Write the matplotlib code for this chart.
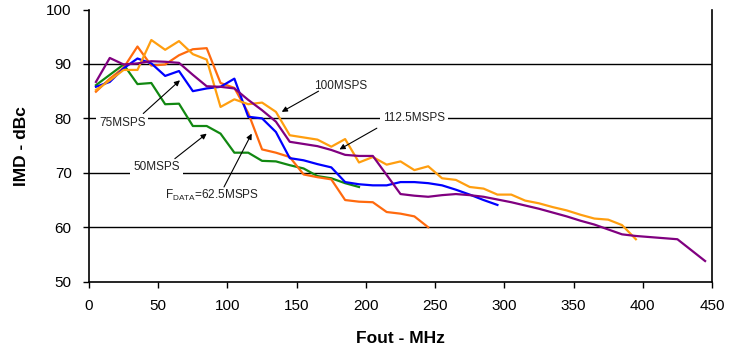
import matplotlib
matplotlib.use('Agg')
import matplotlib.pyplot as plt

plt.rcParams['font.family'] = ['Liberation Sans', 'DejaVu Sans']

# 输出频率 (MHz) 与各采样率下的 IMD (dBc)
f_50 = list(range(5, 200, 10))
imd_50 = [86.1, 88.0, 89.9, 86.3, 86.5, 82.6, 82.7, 78.6, 78.6, 77.2,
          73.7, 73.7, 72.2, 72.1, 71.4, 70.8, 69.4, 69.0, 68.1, 67.4]

f_62 = list(range(5, 250, 10))
imd_62 = [84.9, 87.3, 89.3, 93.2, 89.7, 89.9, 91.6, 92.7, 92.9, 86.5,
          85.6, 81.0, 74.3, 73.7, 72.9, 69.7, 69.2, 68.8, 65.0, 64.7,
          64.6, 62.8, 62.5, 62.0, 60.0]

f_75 = list(range(5, 300, 10))
imd_75 = [85.8, 86.7, 89.2, 91.0, 90.1, 87.8, 88.7, 85.0, 85.5, 85.8,
          87.3, 80.3, 80.0, 77.5, 72.7, 72.3, 71.6, 71.0, 68.3, 67.9,
          67.7, 67.7, 68.3, 68.3, 68.1, 67.7, 66.9, 66.0, 65.0, 64.1]

f_100 = list(range(5, 400, 10))
imd_100 = [85.2, 87.0, 88.9, 88.9, 94.4, 92.6, 94.2, 91.8, 90.8, 82.1,
           83.5, 82.6, 82.9, 81.2, 76.9, 76.5, 76.1, 74.8, 76.2, 71.9,
           72.9, 71.5, 72.1, 70.5, 71.2, 69.0, 68.7, 67.4, 67.1, 66.0,
           66.0, 64.9, 64.4, 63.7, 63.1, 62.3, 61.6, 61.4, 60.4, 57.8]

f_112 = list(range(5, 410, 10)) + [425, 445]
imd_112 = [86.7, 91.1, 89.9, 90.1, 90.5, 90.4, 90.2, 88.0, 85.9, 85.8,
           85.5, 83.4, 81.5, 79.4, 75.7, 75.3, 74.9, 74.2, 73.3, 73.1,
           73.1, 69.6, 66.1, 65.8, 65.6, 65.9, 66.1, 65.9, 65.6, 65.1,
           64.6, 64.0, 63.4, 62.7, 62.0, 61.2, 60.5, 59.6, 58.7, 58.4,
           58.2, 57.8, 53.8]

fig = plt.figure(figsize=(7.43, 3.52), dpi=100)
ax = fig.add_axes([0.1198, 0.1997, 0.8385, 0.7733])

# 网格线
for yv in [60, 70, 80, 90]:
    ax.axhline(yv, color='black', lw=1.0, zorder=1)

lw = 1.6
ax.plot(f_50, imd_50, color='#118811', lw=lw, zorder=3)
ax.plot(f_62, imd_62, color='#FF6A0E', lw=lw, zorder=3)
ax.plot(f_75, imd_75, color='#0000FF', lw=lw, zorder=3)
ax.plot(f_100, imd_100, color='#FF9E0F', lw=lw, zorder=3)
ax.plot(f_112, imd_112, color='#800080', lw=lw, zorder=3)

ax.set_xlim(0, 450)
ax.set_ylim(50, 100)
ax.set_xticks(range(0, 451, 50))
ax.set_yticks(range(50, 101, 10))
ax.tick_params(direction='out', length=4.5, width=1.0, labelsize=11, pad=8,
               colors='black')
ax.tick_params(axis='x', pad=8)
ax.spines['top'].set_visible(False)
for s in ['left', 'bottom', 'right']:
    ax.spines[s].set_linewidth(1.2)

ax.set_xlabel('Fout - MHz', fontsize=12.5, fontweight='bold', labelpad=13)
ax.set_ylabel('IMD - dBc', fontsize=12.5, fontweight='bold', labelpad=12)

# 标注文字和箭头
box = dict(fc='white', ec='none', pad=2)
txt_kw = dict(fontsize=8.5, color='#222222', ha='center', va='center', bbox=box, zorder=5)
arrow = dict(arrowstyle='-|>', color='black', lw=0.8, mutation_scale=8,
             shrinkA=0, shrinkB=0)

labels = [
    ('75MSPS', (24.0, 79.2), (39.2, 80.9), (65.7, 87.0)),
    ('50MSPS', (48.8, 71.0), (62.0, 72.6), (85.0, 77.2)),
    (r'F$_{\mathregular{DATA}}$=62.5MSPS', (88.5, 65.8), (97.5, 67.4), (117.5, 77.2)),
    ('100MSPS', (181.7, 86.0), (165.8, 85.0), (139.2, 81.2)),
    ('112.5MSPS', (234.8, 80.0), (207.9, 78.2), (180.9, 74.3)),
]
for text, pos, tail, head in labels:
    ax.text(pos[0], pos[1], text, **txt_kw)
    ax.annotate('', xy=head, xytext=tail, arrowprops=arrow, zorder=6)

fig.savefig('out.png', dpi=100)
